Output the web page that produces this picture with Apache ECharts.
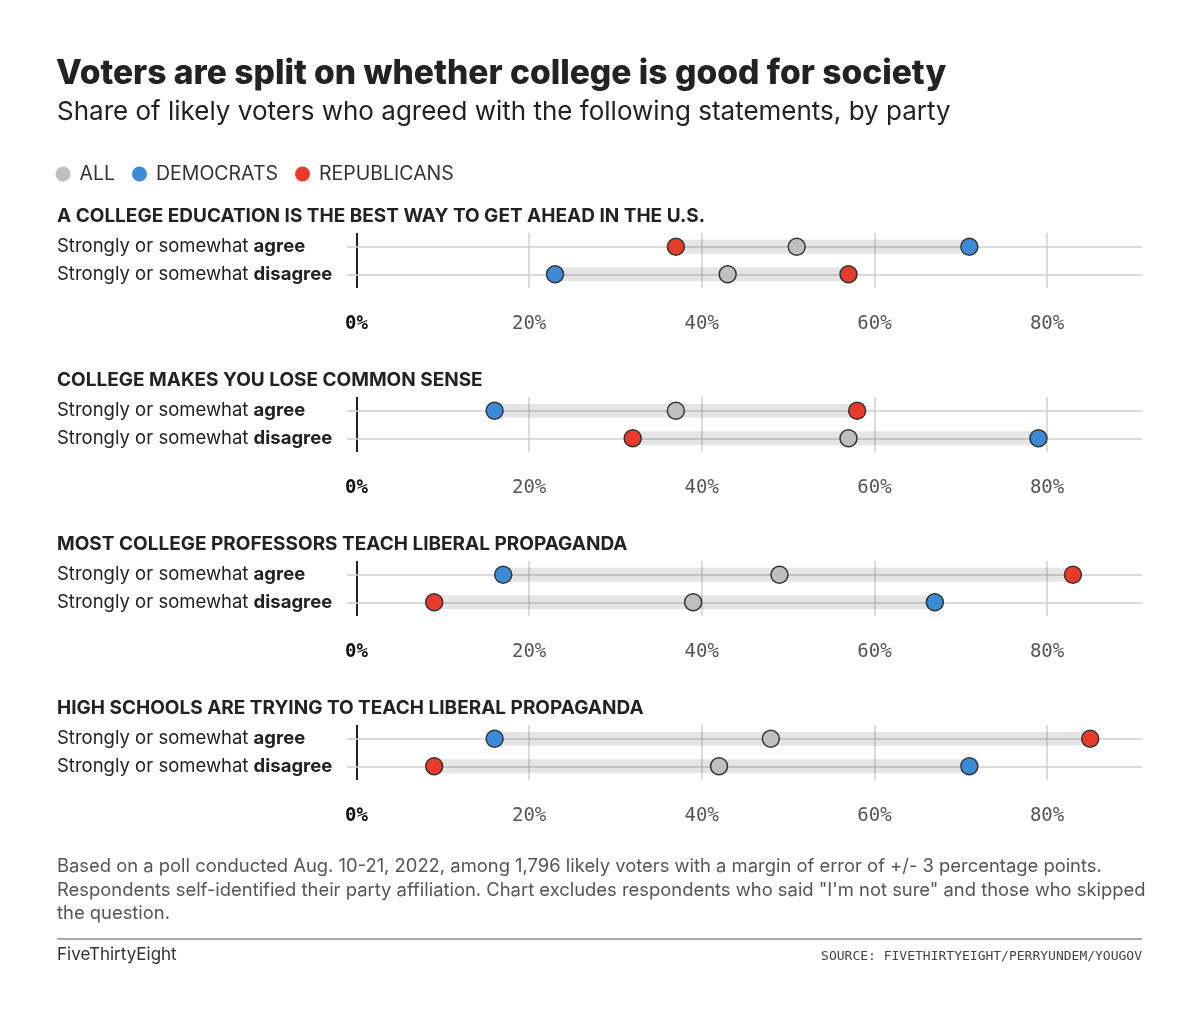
<!DOCTYPE html>
<html>
<head>
<meta charset="utf-8">
<script src="https://cdn.jsdelivr.net/npm/echarts@6/dist/echarts.min.js"></script>
<style>
  html, body { margin: 0; padding: 0; background: #fff; }
  #chart { width: 1200px; height: 1021px; }
</style>
</head>
<body>
<div id="chart"></div>
<script>
// data
const CATS = ['agree', 'disagree'];
const QUESTIONS = [
    'A COLLEGE EDUCATION IS THE BEST WAY TO GET AHEAD IN THE U.S.',
    'COLLEGE MAKES YOU LOSE COMMON SENSE',
    'MOST COLLEGE PROFESSORS TEACH LIBERAL PROPAGANDA',
    'HIGH SCHOOLS ARE TRYING TO TEACH LIBERAL PROPAGANDA'
];
const ALL_VALS = [[51, 43], [37, 57], [49, 39], [48, 42]];
const DEM_VALS = [[71, 23], [16, 79], [17, 67], [16, 71]];
const REP_VALS = [[37, 57], [58, 32], [83, 9], [85, 9]];
const X_TICKS = [0, 20, 40, 60, 80];

const GROUPS = [
    { name: 'ALL', vals: ALL_VALS, color: '#bfbfbf' },
    { name: 'DEMOCRATS', vals: DEM_VALS, color: '#3b8bd7' },
    { name: 'REPUBLICANS', vals: REP_VALS, color: '#e93b2b' }
];

const SANS = 'Inter, Roboto, "Liberation Sans", sans-serif';
const MONO = '"DejaVu Sans Mono", monospace';
const GRID_TOPS = [233, 397, 561, 725];
const GRID_H = 55;

let chart = echarts.init(document.getElementById('chart'));

let grids = [], xAxes = [], yAxes = [], series = [];
let texts = [];

GRID_TOPS.forEach((top, p) => {
    grids.push({ left: 347, right: 58, top: top, height: GRID_H });
    xAxes.push({
        type: 'value', gridIndex: p, min: -1.1, max: 91,
        axisLine: { show: false }, axisTick: { show: false },
        splitLine: { show: false },
        axisLabel: {
            customValues: X_TICKS,
            margin: 27,
            fontFamily: MONO, fontSize: 19, color: '#555',
            formatter: v => v === 0 ? '{z|0%}' : v + '%',
            rich: { z: { fontFamily: MONO, fontSize: 19, fontWeight: 'bold', color: '#111' } }
        }
    });
    yAxes.push({
        type: 'category', gridIndex: p, data: CATS, inverse: true,
        axisLine: { show: false, onZero: false },
        axisTick: { show: true, alignWithLabel: true, inside: true, length: 795, lineStyle: { color: '#d0d0d0', width: 1.5 } },
        axisLabel: {
            align: 'left', margin: 290,
            formatter: v => '{n|Strongly or somewhat }{b|' + v + '}',
            rich: {
                n: { fontFamily: SANS, fontSize: 18.5, color: '#222' },
                b: { fontFamily: SANS, fontSize: 18.5, fontWeight: 'bold', color: '#222' }
            }
        }
    });

    // grey range band between lowest and highest group in each row: [lo, row, hi]
    let bands = CATS.map((c, r) => {
        let v = GROUPS.map(g => g.vals[p][r]);
        return [Math.min(...v), r, Math.max(...v)];
    });
    series.push({
        type: 'custom', xAxisIndex: p, yAxisIndex: p, z: 1, silent: true,
        data: bands,
        renderItem: function (params, api) {
            let a = api.coord([api.value(0), api.value(1)]);
            let b = api.coord([api.value(2), api.value(1)]);
            return {
                type: 'rect',
                shape: { x: a[0], y: a[1] - 7, width: b[0] - a[0], height: 14 },
                style: { fill: 'rgba(0,0,0,0.1)' }
            };
        }
    });

    GROUPS.forEach((g, gi) => {
        let s = {
            name: g.name, type: 'scatter', xAxisIndex: p, yAxisIndex: p, z: 5,
            symbolSize: 17,
            itemStyle: { color: g.color, borderColor: '#333', borderWidth: 1.5, opacity: 1 },
            data: CATS.map((c, r) => [g.vals[p][r], r])
        };
        if (gi === 0) {
            // vertical gridlines
            s.markLine = {
                silent: true, symbol: 'none', label: { show: false }, z: 0,
                data: X_TICKS.map(v => ({
                    xAxis: v,
                    lineStyle: { type: 'solid', color: v === 0 ? '#222' : '#d0d0d0', width: v === 0 ? 2 : 1.5 }
                }))
            };
        }
        series.push(s);
    });

    texts.push({
        type: 'text', left: 57, top: top - 26,
        style: { text: QUESTIONS[p], font: 'bold 19px ' + SANS, fill: '#222' }
    });
});

let option = {
    backgroundColor: '#ffffff',
    animation: false,
    legend: {
        left: 55.5, top: 164, padding: 0,
        icon: 'circle', itemWidth: 15, itemHeight: 15, itemGap: 17,
        itemStyle: { borderWidth: 0 },
        textStyle: { fontFamily: SANS, fontSize: 19.5, color: '#333', padding: [0, 0, 0, 4] },
        data: GROUPS.map(g => g.name)
    },
    grid: grids,
    xAxis: xAxes,
    yAxis: yAxes,
    series: series,
    graphic: texts.concat([
        {
            type: 'text', left: 56, top: 57,
            style: { text: 'Voters are split on whether college is good for society', font: '800 33.6px ' + SANS, fill: '#222' }
        },
        {
            type: 'text', left: 57, top: 99,
            style: { text: 'Share of likely voters who agreed with the following statements, by party', font: '26px ' + SANS, fill: '#222' }
        },
        {
            type: 'text', left: 57, top: 855,
            style: {
                text: 'Based on a poll conducted Aug. 10-21, 2022, among 1,796 likely voters with a margin of error of +/- 3 percentage points.\nRespondents self-identified their party affiliation. Chart excludes respondents who said "I\'m not sure" and those who skipped\nthe question.',
                font: '18.4px ' + SANS, fill: '#555', lineHeight: 23.5
            }
        },
        {
            type: 'line', shape: { x1: 57, y1: 939, x2: 1142, y2: 939 },
            style: { stroke: '#aaa', lineWidth: 2 }
        },
        {
            type: 'text', left: 57, top: 946,
            style: { text: 'FiveThirtyEight', font: '17px ' + SANS, fill: '#333' }
        },
        {
            type: 'text', right: 58, top: 950,
            style: { text: 'SOURCE: FIVETHIRTYEIGHT/PERRYUNDEM/YOUGOV', font: '13px ' + MONO, fill: '#444' }
        }
    ])
};

chart.setOption(option);
</script>
</body>
</html>
